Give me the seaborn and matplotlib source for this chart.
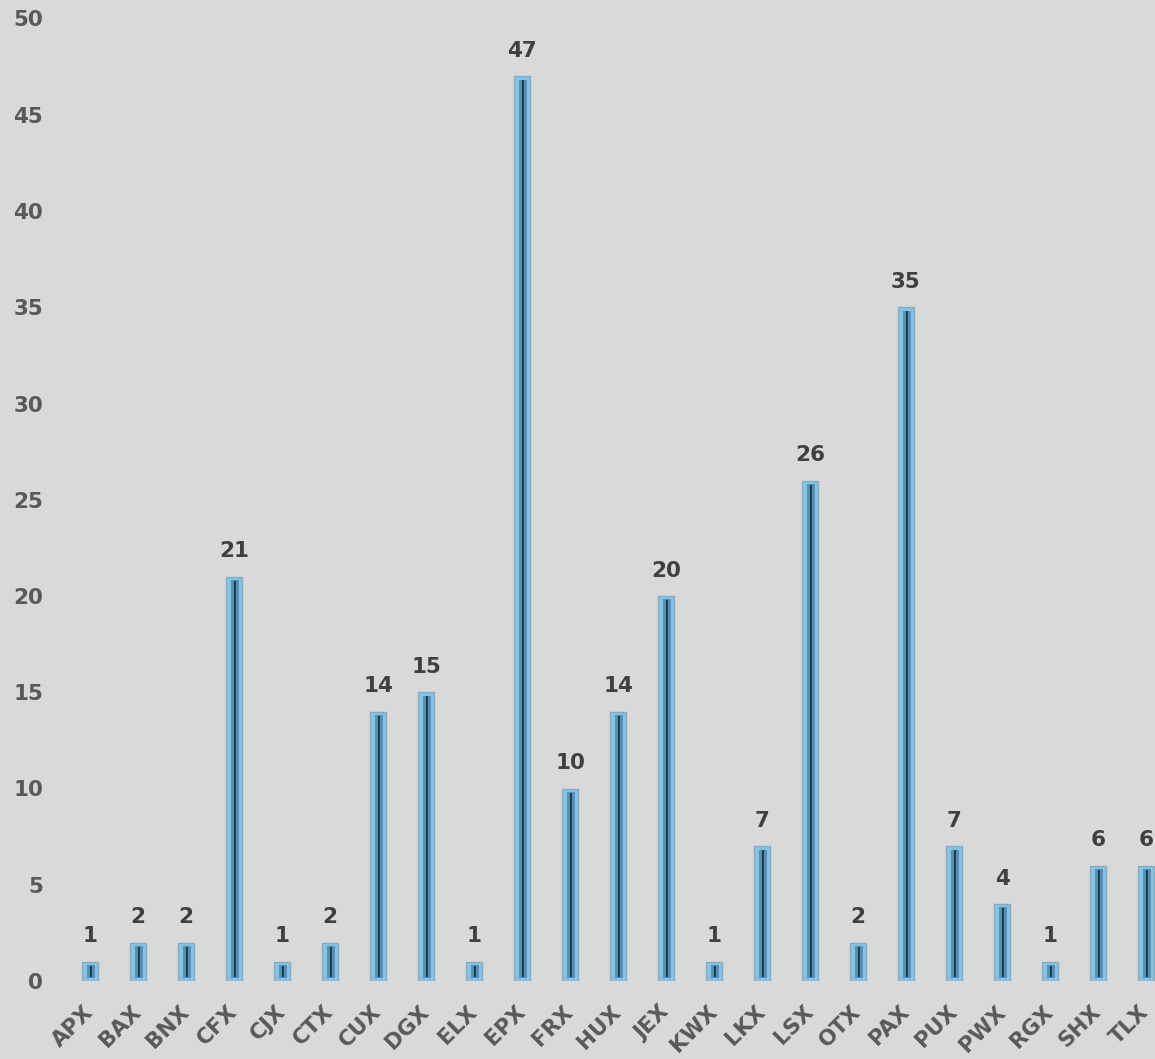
import matplotlib
matplotlib.use("Agg")
import matplotlib.pyplot as plt
import seaborn as sns
import pandas as pd

categories = ["APX", "BAX", "BNX", "CFX", "CJX", "CTX", "CUX", "DGX", "ELX", "EPX", "FRX",
              "HUX", "JEX", "KWX", "LKX", "LSX", "OTX", "PAX", "PUX", "PWX", "RGX", "SHX", "TLX"]
values = [1, 2, 2, 21, 1, 2, 14, 15, 1, 47, 10, 14, 20, 1, 7, 26, 2, 35, 7, 4, 1, 6, 6]
y_ticks = [0, 5, 10, 15, 20, 25, 30, 35, 40, 45, 50]

df = pd.DataFrame({"cat": categories, "val": values})

sns.set_theme(style="white")
plt.rcParams['font.family'] = ['DejaVu Sans']

BG = "#d9d9d9"
fig = plt.figure(figsize=(11.55, 10.59), dpi=100, facecolor=BG)
W, H = 1155, 1059
ax = fig.add_axes([66 / W, (H - 981) / H, (W - 66) / W, 962.5 / H])
ax.set_facecolor(BG)

# outer bar
sns.barplot(data=df, x="cat", y="val", ax=ax, width=0.33, color="#80c4e8",
            saturation=1, edgecolor="#90a9b8", linewidth=1.0, zorder=2)
n_outer = len(ax.patches)
# inner mid-tone bar
sns.barplot(data=df, x="cat", y="val", ax=ax, width=0.16, color="#5690b2",
            saturation=1, linewidth=0, zorder=3)
n_mid = len(ax.patches)
# innermost dark line
sns.barplot(data=df, x="cat", y="val", ax=ax, width=0.045, color="#243b4c",
            saturation=1, linewidth=0, zorder=4)

for i, p in enumerate(ax.patches):
    if i < n_outer:
        continue
    h = p.get_height()
    top = 0.17 if i < n_mid else 0.22
    bot = 0.13 if i < n_mid else 0.2
    p.set_y(bot)
    p.set_height(max(h - top - bot, 0.05))
    p.set_x(p.get_x() + 0.025)

ax.bar_label(ax.containers[0], labels=[str(v) for v in values], padding=11,
             fontsize=15.5, fontweight="bold", color="#404040")

ax.set_xlim(-0.5, (W - 90) / 48.0)
ax.set_ylim(0, 50)
ax.set_yticks(y_ticks)
ax.set_yticklabels([str(t) for t in y_ticks], fontsize=15.5, fontweight="bold", color="#595959")
ax.set_xticks(range(len(categories)))
ax.set_xticklabels(categories, fontsize=15.5, fontweight="bold", color="#595959",
                   rotation=45, ha="right", va="center", rotation_mode="anchor")
ax.tick_params(axis="y", length=0, pad=16.5)
ax.tick_params(axis="x", length=0, pad=20)
ax.set_xlabel("")
ax.set_ylabel("")
for s in ax.spines.values():
    s.set_visible(False)
ax.grid(False)

fig.savefig("out.png", dpi=100, facecolor=BG)
